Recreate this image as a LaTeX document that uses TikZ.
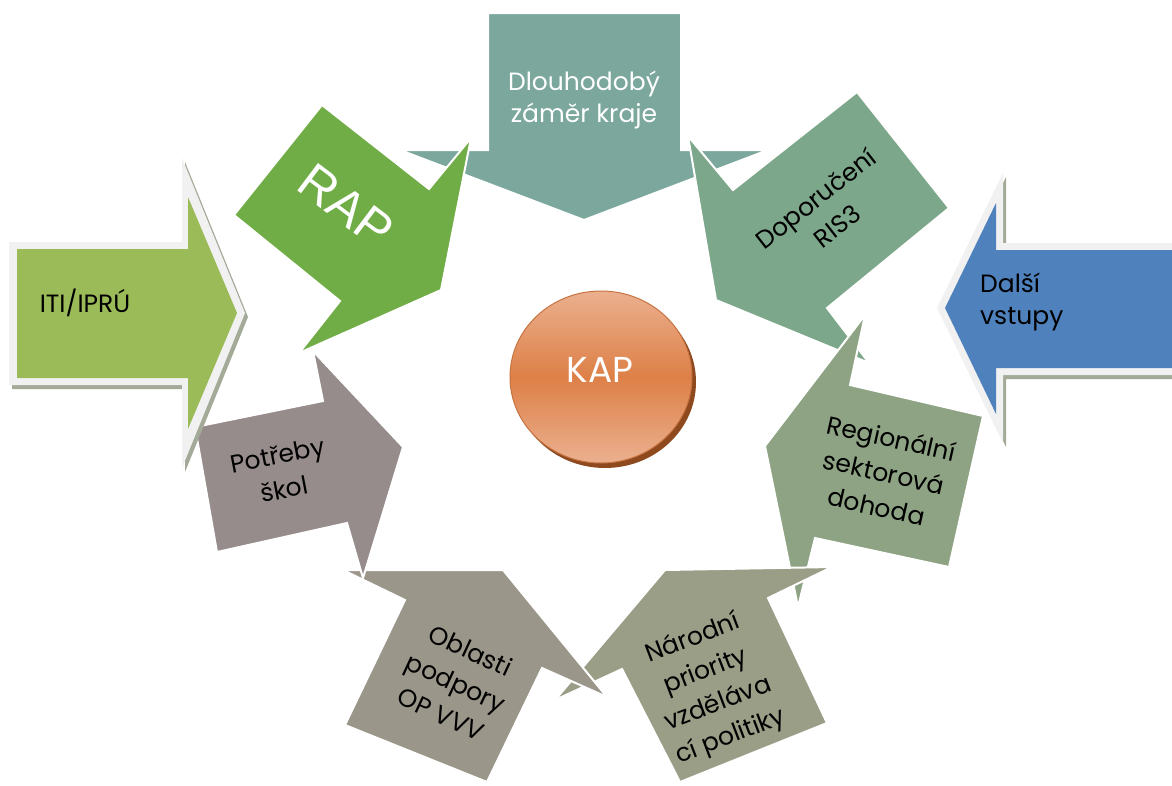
\documentclass[tikz,border=0pt]{standalone}
\usepackage{fontspec}
\setmainfont{Poppins}
\newfontfamily\arialfont{Liberation Sans}
\definecolor{cTeal}{HTML}{7BA79D}
\definecolor{cRis}{HTML}{7DA78A}
\definecolor{cReg}{HTML}{8DA383}
\definecolor{cNar}{HTML}{9A9E87}
\definecolor{cObl}{HTML}{9B968A}
\definecolor{cPot}{HTML}{968C8B}
\definecolor{cRap}{HTML}{70AD47}
\definecolor{cIti}{HTML}{9BBB59}
\definecolor{cBlue}{HTML}{4F81BD}
\definecolor{cBorder}{HTML}{F1F1F1}
\definecolor{cShadow}{HTML}{A3AA98}
\definecolor{cKapMid}{HTML}{DD8047}
\definecolor{cKapLight}{HTML}{EBB08F}
\definecolor{cKapShadow}{HTML}{8E4A1E}
\begin{document}
\begin{tikzpicture}[x=1pt,y=-1pt,
  arrowshape/.style={draw=white, line width=2pt, line join=miter},
  lbl/.style={align=center, font=\fontsize{25}{32}\selectfont, text=black, inner sep=0pt},
  rlbl/.style={lbl, font=\fontsize{25}{35}\selectfont},
  wlbl/.style={lbl, text=white},
  bigborder/.style={fill=cBorder},
  bigshadow/.style={fill=cShadow}]
\useasboundingbox (0,0) rectangle (1172,785);
\fill[white] (0,0) rectangle (1172,785);

% Dlouhodoby zamer kraje
\filldraw[arrowshape, fill=cTeal] (488,13) -- (681,13) -- (681,150) -- (768,150) -- (584,220) -- (400,150) -- (488,150) -- cycle;
% Doporuceni RIS3
\filldraw[arrowshape, fill=cRis] (857,92) -- (949,208) -- (827,308) -- (869,363) -- (716,300) -- (688,136) -- (733,190) -- cycle;
% Regionalni sektorova dohoda
\filldraw[arrowshape, fill=cReg] (983,416) -- (949,567) -- (815,538) -- (798,607) -- (765,446) -- (865,315) -- (850,385) -- cycle;
% Narodni priority
\filldraw[arrowshape, fill=cNar] (665,570) -- (832,567) -- (768,598) -- (827,723) -- (680,782) -- (622,669) -- (555,700) -- cycle;
% Oblasti podpory
\filldraw[arrowshape, fill=cObl] (343,570) -- (503,570) -- (607,697) -- (542,668) -- (487,782) -- (345,725) -- (405,600) -- cycle;
% Potreby skol
\filldraw[arrowshape, fill=cPot] (313,351) -- (323,401) -- (195,427) -- (217,552) -- (347,523) -- (363,578) -- (403,447) -- cycle;
% RAP
\filldraw[arrowshape, fill=cRap] (322,105) -- (429,189) -- (471,138) -- (441,290) -- (299,353) -- (340,301) -- (234,215) -- cycle;

% ITI/IPRU
\fill[bigshadow, shift={(3,4)}] (9,242) -- (182,242) -- (182,158) -- (245,313) -- (182,468) -- (182,385) -- (9,385) -- cycle;
\fill[bigborder] (9,242) -- (182,242) -- (182,158) -- (245,313) -- (182,468) -- (182,385) -- (9,385) -- cycle;
\fill[cIti] (17,249) -- (188,249) -- (188,197) -- (237,313) -- (188,429) -- (188,378) -- (17,378) -- cycle;

% Dalsi vstupy
\fill[bigshadow, shift={(3,4)}] (937,308) -- (1003,173) -- (1003,243) -- (1190,243) -- (1190,375) -- (1003,375) -- (1003,443) -- cycle;
\fill[bigborder] (937,308) -- (1003,173) -- (1003,243) -- (1190,243) -- (1190,375) -- (1003,375) -- (1003,443) -- cycle;
\fill[cBlue] (945,308) -- (996,203) -- (996,250) -- (1190,250) -- (1190,368) -- (996,368) -- (996,414) -- cycle;

% KAP
\fill[cKapShadow] (605,382) ellipse [x radius=91, y radius=86];
\shade[top color=cKapLight, bottom color=cKapLight, middle color=cKapMid, draw=cKapMid!90!black, line width=1pt] (601,377) ellipse [x radius=91, y radius=86];

% Labels
\node[lbl] (iti) at (85,303) {ITI/IPRÚ};
\node[wlbl] (dlo) at (584,100) {Dlouhodobý\\záměr kraje};
\node[text=white, inner sep=0pt, font=\arialfont\fontsize{50}{50}\selectfont, rotate=-37] (rap) at (346,206) {RAP};
\node[rlbl, rotate=38] (ris) at (826,212) {Doporučení\\RIS3};
\node[lbl, align=left, anchor=west] (dal) at (980,302) {Další\\vstupy};
\node[rlbl, rotate=-12.5] (reg) at (884,472) {Regionální\\sektorová\\dohoda};
\node[rlbl, rotate=21] (nar) at (712,688) {Národní\\priority\\vzděláva\\cí politiky};
\node[rlbl, rotate=-25] (obl) at (456,682) {Oblasti\\podpory\\OP VVV};
\node[rlbl, rotate=11] (pot) at (281,472) {Potřeby\\škol};
\node[text=white, inner sep=0pt, font=\fontsize{36}{36}\selectfont] (kap) at (600,370) {KAP};
\end{tikzpicture}
\end{document}
